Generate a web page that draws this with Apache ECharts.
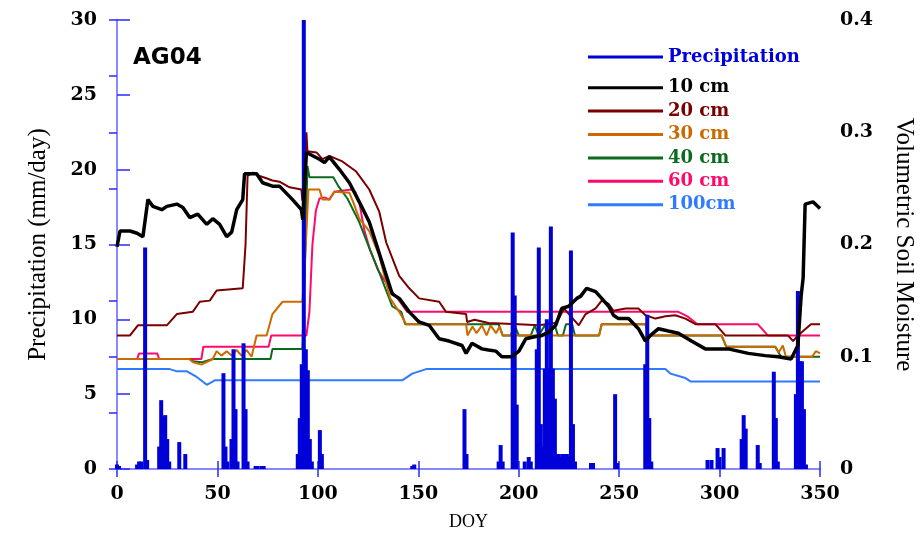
<!DOCTYPE html>
<html><head><meta charset="utf-8">
<script src="https://cdn.jsdelivr.net/npm/echarts/dist/echarts.min.js"></script>
<style>html,body{margin:0;padding:0;background:#fff}#c{width:924px;height:536px}</style>
</head><body><div id="c"></div>
<script>
// ---- data (DOY, value) ----
const doyRange = [0, 350];
const precipRange = [0, 30];
const smRange = [0, 0.4];
const seriesNames = ['Precipitation', '10 cm', '20 cm', '30 cm', '40 cm', '60 cm', '100cm'];
const seriesColors = ['#0000d8', '#000000', '#7a0000', '#cc6a00', '#0a6b1e', '#ff0a6a', '#2f7bff'];

const precipitation = [[0,0.3],[1,0.2],[10,0.3],[11,0.5],[12,0.5],[14,14.8],[15,0.6],[21,1.5],[22,4.6],[23,3.5],[24,3.6],[25,2.0],[26,0.5],[31,1.8],[34,1.0],[53,6.4],[54,1.5],[55,0.5],[57,2.0],[58,8.0],[59,4.0],[60,0.5],[63,8.4],[64,4.0],[65,0.5],[69,0.2],[70,0.2],[72,0.2],[73,0.2],[90,1.0],[91,3.4],[92,7.0],[93,30.0],[94,8.0],[95,6.6],[96,2.0],[97,0.5],[101,2.6],[102,1.0],[147,0.2],[148,0.3],[173,4.0],[174,1.0],[190,0.5],[191,1.6],[192,0.5],[197,15.8],[198,11.6],[199,4.3],[203,0.5],[205,0.8],[206,0.5],[209,8.0],[210,14.8],[211,3.0],[212,1.5],[213,6.7],[214,10.0],[215,6.7],[216,16.2],[217,6.7],[218,4.7],[219,1.0],[220,1.0],[221,0.8],[222,1.0],[223,1.0],[224,1.0],[225,0.8],[226,14.6],[227,3.0],[228,0.5],[236,0.4],[237,0.4],[248,5.0],[249,0.4],[263,7.0],[264,10.3],[265,3.4],[266,0.5],[294,0.6],[296,0.6],[299,1.4],[300,0.8],[302,1.4],[311,2.0],[312,3.6],[313,2.7],[319,1.6],[320,0.4],[327,6.5],[328,3.4],[329,0.5],[338,5.0],[339,11.9],[340,7.2],[341,7.2],[342,4.0],[343,0.3]];

const sm10 = [[0,0.198],[1.5,0.212],[6.5,0.212],[10,0.21],[12.9,0.207],[15.4,0.240],[17.9,0.234],[22.3,0.231],[24.8,0.234],[29.8,0.236],[32.8,0.233],[36.2,0.224],[40.2,0.227],[44.7,0.218],[47.7,0.223],[51.1,0.218],[54.6,0.207],[57.1,0.211],[59.6,0.231],[62.6,0.240],[63.5,0.263],[69.5,0.263],[72.5,0.255],[77.4,0.252],[80.9,0.252],[87.4,0.240],[91.8,0.231],[92.5,0.222],[94.3,0.282],[100.8,0.276],[103.3,0.273],[105.7,0.278],[110.7,0.267],[115.7,0.255],[120.6,0.238],[125.6,0.220],[130.6,0.192],[137,0.156],[140.5,0.152],[145.5,0.140],[150.4,0.131],[155.4,0.128],[160.4,0.116],[165.3,0.114],[171.8,0.110],[173.8,0.103],[176.7,0.112],[181.7,0.107],[185,0.106],[188.7,0.105],[191.6,0.100],[196.6,0.100],[200.1,0.105],[203.5,0.116],[208.5,0.118],[211.5,0.119],[215,0.122],[218.4,0.128],[221.4,0.143],[224.9,0.145],[228.9,0.152],[230.9,0.154],[233.8,0.161],[238.3,0.158],[241.3,0.152],[244.8,0.145],[247.2,0.137],[249.7,0.134],[254.7,0.134],[259.6,0.125],[263.1,0.114],[265.6,0.119],[269.6,0.125],[274.5,0.123],[279.5,0.121],[286,0.114],[292.9,0.107],[304.3,0.107],[314.3,0.103],[322.7,0.101],[329.2,0.100],[335.6,0.098],[339,0.110],[340.6,0.154],[341.6,0.170],[342.6,0.236],[346.5,0.238],[350,0.232]];

const sm20 = [[0,0.119],[6.5,0.119],[10.4,0.128],[24.8,0.128],[29.8,0.138],[37.7,0.140],[41.2,0.149],[46.2,0.150],[49.6,0.159],[62.6,0.161],[64,0.200],[65,0.261],[67.5,0.264],[71,0.261],[74.4,0.259],[77.4,0.257],[80.9,0.256],[85.9,0.251],[91.8,0.249],[92.3,0.239],[94.3,0.300],[94.8,0.283],[99.3,0.282],[102.3,0.276],[105.7,0.279],[112.2,0.274],[119.1,0.265],[125.6,0.249],[130.6,0.229],[134,0.202],[140.5,0.172],[145.5,0.161],[150.4,0.152],[160.4,0.149],[163.8,0.140],[173.8,0.138],[174.3,0.131],[178,0.133],[185,0.130],[200,0.129],[210,0.128],[218,0.130],[220,0.134],[222.5,0.143],[225,0.138],[229.9,0.128],[233.3,0.138],[238.3,0.143],[241.3,0.150],[244.8,0.147],[247.2,0.141],[253.2,0.143],[259.6,0.143],[263.1,0.137],[268.1,0.134],[273.1,0.136],[278,0.137],[283,0.134],[288,0.129],[297.9,0.129],[300.9,0.123],[302.8,0.119],[334,0.119],[336.6,0.114],[339,0.119],[345.5,0.129],[350,0.129]];

const sm30 = [[0,0.098],[36,0.098],[38,0.095],[42,0.093],[47.7,0.098],[49.6,0.105],[52,0.101],[54.6,0.105],[57.1,0.101],[59.5,0.106],[62,0.101],[64.5,0.106],[67,0.100],[69.5,0.119],[74.5,0.119],[77.4,0.138],[82.4,0.149],[92.3,0.149],[93.5,0.180],[95.3,0.249],[100.8,0.249],[102.3,0.240],[105.7,0.240],[108.2,0.247],[115.7,0.246],[118,0.236],[120.6,0.223],[125.6,0.212],[130.6,0.190],[136,0.152],[140.5,0.140],[144,0.129],[173.8,0.129],[174.5,0.119],[177,0.127],[179,0.121],[181.7,0.128],[184,0.119],[186,0.128],[188.7,0.121],[190.5,0.127],[192,0.119],[240,0.119],[241.3,0.129],[263.1,0.129],[264.6,0.119],[301,0.119],[303.3,0.109],[327.7,0.109],[329.5,0.104],[331.5,0.110],[333,0.100],[346,0.100],[348,0.105],[350,0.103]];

const sm40 = [[0,0.098],[36,0.098],[38,0.096],[42,0.095],[47.7,0.098],[76.4,0.098],[77.4,0.107],[92.3,0.107],[93.5,0.180],[94.8,0.270],[95.8,0.260],[107.7,0.260],[110.2,0.252],[114.7,0.241],[120.6,0.220],[125.6,0.197],[130.6,0.175],[137,0.145],[141.5,0.140],[143.5,0.129],[190,0.129],[192,0.119],[196,0.119],[198,0.128],[200,0.119],[206,0.119],[208,0.128],[210,0.119],[213,0.128],[215,0.119],[218,0.128],[219.5,0.119],[222,0.119],[223.5,0.129],[226.6,0.129],[228,0.119],[240,0.119],[241.3,0.129],[263.1,0.129],[264.6,0.119],[301,0.119],[303.3,0.109],[327.7,0.109],[330.6,0.100],[350,0.100]];

const sm60 = [[0,0.098],[10,0.098],[11,0.103],[20,0.103],[21,0.098],[42,0.098],[43,0.109],[75.5,0.109],[76.8,0.119],[94.3,0.119],[95.8,0.140],[97.3,0.200],[99,0.230],[100.8,0.241],[103.3,0.242],[105.7,0.240],[108.2,0.247],[116.7,0.249],[118.6,0.247],[120.6,0.238],[123.1,0.213],[126,0.195],[130,0.177],[136,0.160],[140.5,0.150],[144.5,0.140],[279.5,0.140],[284,0.136],[289,0.129],[319,0.129],[324,0.119],[350,0.119]];

const sm100 = [[0,0.089],[26.3,0.089],[29.8,0.087],[34.8,0.087],[39.7,0.082],[44.7,0.075],[48.7,0.079],[142,0.079],[147,0.085],[153.9,0.089],[273,0.089],[275.5,0.085],[283,0.081],[285.5,0.078],[350,0.078]];

const xTicks = [0, 50, 100, 150, 200, 250, 300, 350];
const leftTicks = [0, 5, 10, 15, 20, 25, 30];
const rightTicks = [0, 0.1, 0.2, 0.3, 0.4];

// ---- chart ----
const chart = echarts.init(document.getElementById('c'), null, {renderer: 'canvas'});
const AX = '#8080ff', TK = '#2a2aff';
const tickFont = {fontFamily: 'DejaVu Serif', fontWeight: 'bold', fontSize: 19, color: '#000'};
const smData = [sm10, sm20, sm30, sm40, sm60, sm100];
const lineSeries = smData.map((d, i) => ({
  name: seriesNames[i + 1], type: 'line', yAxisIndex: 1, data: d,
  showSymbol: false, symbol: 'none', animation: false,
  color: seriesColors[i + 1],
  lineStyle: {color: seriesColors[i + 1], width: i === 0 ? 3.5 : 2},
  z: i === 0 ? 5 : 2 + (5 - i) * 0.1
}));
const legendText = (name, color) => ({name, icon: 'rect', textStyle: {color}});

chart.setOption({
  backgroundColor: '#fff',
  animation: false,
  title: {text: 'AG04', left: 133, top: 47, padding: 0,
    textStyle: {fontFamily: 'DejaVu Sans', fontWeight: 'bold', fontSize: 23, color: '#000'}},
  legend: [
    {left: 588, top: 46, padding: 0, orient: 'vertical', itemWidth: 75, itemHeight: 3, itemGap: 0,
     textStyle: {fontFamily: 'DejaVu Serif', fontWeight: 'bold', fontSize: 18, lineHeight: 22},
     data: [legendText(seriesNames[0], seriesColors[0])]},
    {left: 588, top: 76, padding: 0, orient: 'vertical', itemWidth: 75, itemHeight: 3, itemGap: 0,
     textStyle: {fontFamily: 'DejaVu Serif', fontWeight: 'bold', fontSize: 18, lineHeight: 23.4},
     data: seriesNames.slice(1).map((n, i) => legendText(n, seriesColors[i + 1]))}
  ],
  grid: {left: 117, right: 102, top: 20, bottom: 65, containLabel: false},
  xAxis: [
    {type: 'value', min: doyRange[0], max: doyRange[1], interval: 50, position: 'bottom',
     name: 'DOY', nameLocation: 'middle', nameGap: 44,
     nameTextStyle: {fontFamily: 'Liberation Serif', fontSize: 18, color: '#000'},
     axisLine: {show: true, lineStyle: {color: AX, width: 1.5}},
     axisTick: {show: true, inside: true, length: 8, lineStyle: {color: TK, width: 1.5}},
     axisLabel: Object.assign({margin: 16, formatter: v => xTicks.includes(v) ? String(v) : ''}, tickFont),
     splitLine: {show: false}},
    {type: 'value', min: doyRange[0], max: doyRange[1], interval: 50, position: 'top',
     axisLine: {show: true, lineStyle: {color: AX, width: 1.5}},
     axisTick: {show: true, inside: true, length: 8, lineStyle: {color: TK, width: 1.5}},
     axisLabel: {show: false}, splitLine: {show: false}}
  ],
  yAxis: [
    {type: 'value', min: precipRange[0], max: precipRange[1], interval: 5, position: 'left',
     name: 'Precipitation (mm/day)', nameLocation: 'middle', nameGap: 66, nameRotate: 90,
     nameTextStyle: {fontFamily: 'Liberation Serif', fontSize: 25, color: '#000'},
     axisLine: {show: true, lineStyle: {color: AX, width: 1.5}},
     axisTick: {show: true, inside: true, length: 13, lineStyle: {color: TK, width: 1.5}},
     axisLabel: Object.assign({margin: 20, formatter: v => leftTicks.includes(v) ? String(v) : ''}, tickFont),
     splitLine: {show: false}},
    {type: 'value', min: smRange[0], max: smRange[1], interval: 0.05, position: 'right',
     name: 'Volumetric Soil Moisture', nameLocation: 'middle', nameGap: 71, nameRotate: -90,
     nameTextStyle: {fontFamily: 'Liberation Serif', fontSize: 25, color: '#000'},
     axisLine: {show: true, lineStyle: {color: AX, width: 1.5}},
     axisTick: {show: true, inside: true, length: 8, lineStyle: {color: TK, width: 1.5}},
     axisLabel: Object.assign({margin: 20, formatter: v => {
        const k = Math.round(v * 20);
        if (k % 2) return '';
        const t = k / 20;
        const hit = rightTicks.find(r => Math.abs(r - t) < 1e-9);
        return hit === undefined ? '' : (hit === 0 ? '0' : hit.toFixed(1));
     }}, tickFont),
     splitLine: {show: false}}
  ],
  series: [
    {name: seriesNames[0], type: 'bar', xAxisIndex: 0, yAxisIndex: 0, data: precipitation,
     barWidth: 4, color: seriesColors[0], itemStyle: {color: seriesColors[0]}, z: 4, animation: false}
  ].concat(lineSeries)
});
</script>
</body></html>
